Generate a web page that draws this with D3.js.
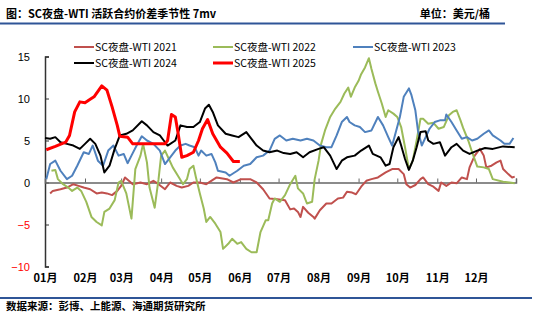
<!DOCTYPE html>
<html><head><meta charset="utf-8">
<script src="https://cdn.jsdelivr.net/npm/d3@7/dist/d3.min.js"></script>
<style>
body{margin:0;background:#fff;}
svg{display:block;font-family:"Noto Sans CJK SC","Liberation Sans",sans-serif;}
</style></head>
<body><svg id="c" width="550" height="323"></svg>
<script>
// ---- data (day of year, value in USD/bbl) ----
const monthLabels = ["01月","02月","03月","04月","05月","06月","07月","08月","09月","10月","11月","12月"];
const monthStarts = [0,31,59,90,120,151,181,212,243,273,304,334,365];
const yTicks = [-10,-5,0,5,10,15];
const seriesNames = ["SC夜盘-WTI 2021","SC夜盘-WTI 2022","SC夜盘-WTI 2023","SC夜盘-WTI 2024","SC夜盘-WTI 2025"];

const days2021 = [4,6,12,17,22,26,30,35,40,44,48,52,56,59,62,65,68,74,79,84,88,93,97,102,106,111,115,120,125,133,141,146,152,159,164,169,174,180,186,190,193,196,198,200,204,208,209,213,218,222,227,231,234,238,241,245,249,253,258,264,269,274,278,280,283,287,291,293,297,301,305,307,311,315,319,323,327,329,333,337,340,342,346,350,353,355,359,362,364];
const vals2021 = [-1.3,-1.0,-0.8,-0.6,-0.2,-0.4,-0.6,-0.8,-1.3,-1.2,-1.3,-1.5,-1.0,-0.4,0.6,0.2,-0.2,0.0,-0.2,0.2,-0.2,-0.8,0.0,-0.4,-0.6,-0.4,0.0,0.0,-0.2,0.6,0.4,0.0,0.4,0.4,0.0,-0.8,-1.9,-2.0,-2.1,-3.2,-3.1,-3.5,-4.1,-2.9,-3.6,-4.1,-4.3,-3.3,-2.5,-2.5,-1.9,-1.8,-1.1,-1.2,-1.4,-0.5,0.2,0.4,0.6,1.2,1.6,1.6,1.0,-0.2,-0.6,-0.3,0.4,0.6,-0.2,-0.5,-1.0,0.0,-0.4,0.0,-0.1,0.6,0.4,1.8,3.2,4.0,3.2,1.8,2.0,2.4,2.6,1.6,1.0,0.6,0.7];

const days2022 = [5,8,10,14,18,21,25,28,32,36,40,44,46,50,54,57,59,63,67,70,74,76,79,81,85,88,90,93,96,99,103,107,110,112,115,117,120,123,125,128,132,136,138,142,145,149,152,156,160,164,167,171,173,176,178,182,186,190,194,196,200,203,207,209,212,214,217,221,225,229,232,235,237,240,243,245,248,251,253,256,258,261,264,266,270,273,276,279,282,285,288,291,293,297,301,305,309,313,316,319,322,324,328,331,335,340,344,347,355,360,364];
const vals2022 = [1.4,1.5,0.4,-0.2,-0.6,-1.0,-0.6,-1.0,-2.3,-4.1,-4.7,-5.1,-3.5,-3.1,-2.1,0.0,0.2,-1.3,-4.3,1.6,3.2,4.6,2.4,-0.6,-3.0,0.4,3.2,3.8,2.8,1.8,0.8,-0.2,0.4,1.6,2.0,0.6,-1.3,-3.1,-4.7,-4.1,-4.9,-5.9,-7.9,-7.3,-6.7,-7.3,-7.1,-7.9,-8.3,-8.3,-5.9,-4.5,-4.5,-2.5,-1.9,-2.3,-1.5,-0.2,0.8,-0.7,-1.3,-2.5,-2.3,0.4,2.6,4.6,6.2,7.8,8.8,9.6,10.6,11.3,10.2,11.3,12.1,12.9,13.7,14.8,13.5,11.8,10.8,9.4,7.8,8.6,8.2,7.8,6.6,4.2,1.6,2.6,5.0,7.6,7.6,7.0,7.1,6.4,6.6,8.0,8.4,8.6,7.4,6.5,5.0,3.6,1.9,1.8,1.6,0.4,0.1,0.0,-0.1];

const days2023 = [1,4,8,12,17,21,25,30,34,37,41,45,49,53,57,61,64,67,71,75,79,84,89,93,97,101,105,109,112,116,119,121,125,129,132,134,140,143,149,154,159,164,169,174,178,182,187,192,198,203,208,213,218,222,226,230,234,236,240,244,248,253,258,262,266,269,271,275,278,282,284,287,289,292,295,298,302,306,310,311,315,319,323,327,331,335,340,344,347,353,356,360,363];
const vals2023 = [0.4,2.2,2.6,1.4,0.4,0.8,2.0,3.6,3.4,4.4,2.6,2.0,3.8,4.4,3.2,3.4,2.3,3.2,4.4,5.5,5.0,4.6,3.8,2.2,3.0,3.8,4.4,4.6,4.4,4.2,3.2,3.8,3.2,3.4,2.4,1.4,1.2,0.8,1.4,2.0,2.2,3.0,3.2,3.8,5.2,5.6,5.0,5.2,5.0,5.2,5.0,4.4,4.2,4.2,5.6,7.2,7.8,7.2,6.8,6.6,6.0,6.2,7.8,6.8,5.4,4.4,5.5,7.8,10.2,11.2,10.4,8.6,6.2,4.4,5.4,6.4,7.2,7.4,7.4,8.1,7.2,6.2,5.2,5.4,5.0,5.2,5.8,6.2,5.6,5.0,4.6,4.6,5.3];

const days2024 = [0,4,8,12,17,22,27,31,35,39,43,46,50,54,58,63,68,75,79,84,89,92,95,101,105,110,115,120,124,127,130,134,140,145,150,156,160,164,169,174,180,185,190,195,200,205,212,216,221,226,230,234,240,245,251,254,260,264,267,270,274,276,279,282,285,288,291,295,297,301,306,310,315,319,324,329,335,341,347,355,364];
const vals2024 = [5.3,5.2,5.4,4.8,4.6,4.4,4.0,4.6,5.2,4.6,3.2,1.2,2.0,4.0,5.6,5.8,6.2,7.3,6.8,6.0,5.6,5.0,4.4,5.0,6.8,6.6,6.6,7.2,8.8,9.25,8.4,6.8,5.8,5.6,5.4,6.0,5.2,4.4,3.8,3.6,3.8,3.5,3.4,3.6,3.0,3.6,4.0,4.2,3.2,1.6,2.6,3.0,3.2,3.8,4.4,3.4,3.0,2.0,2.2,4.2,5.4,4.4,2.8,1.5,2.6,4.2,6.0,6.1,5.0,4.6,4.8,3.2,4.2,4.6,3.8,3.4,3.8,4.1,4.0,4.3,4.2];

const days2025 = [1,8,16,19,23,27,31,35,38,44,48,52,56,58,64,68,81,93,95,98,101,103,106,110,115,119,122,126,130,136,141,146,151];
const vals2025 = [3.9,4.3,4.8,5.6,8.4,9.6,9.5,9.9,10.2,11.5,11.0,9.0,6.8,5.5,5.4,4.6,4.6,4.6,5.0,8.1,7.8,6.0,3.0,3.2,3.6,5.0,6.4,7.5,5.8,4.2,3.5,2.5,2.5];

const seriesColors = ["#C0504D","#9BBB59","#4F81BD","#000000","#FF0000"];
const seriesWidths = [2,2,2,2,3];

const allDays = [days2021,days2022,days2023,days2024,days2025];
const allVals = [vals2021,vals2022,vals2023,vals2024,vals2025];

// ---- drawing ----
const svg = d3.select("#c");
const x = d3.scaleLinear().domain([0,365]).range([45,516]);
const y = d3.scaleLinear().domain([-10,15]).range([266.5,56.5]);

// header
svg.append("text").attr("x",6).attr("y",18).attr("font-size",11).attr("font-weight","bold").attr("fill","#000")
  .text("图：SC夜盘-WTI 活跃合约价差季节性 7mv");
svg.append("text").attr("x",490).attr("y",18).attr("text-anchor","end").attr("font-size",11).attr("font-weight","bold").attr("fill","#000")
  .text("单位：美元/桶");
svg.append("line").attr("x1",0).attr("x2",505).attr("y1",23.5).attr("y2",23.5).attr("stroke","#2F5597").attr("stroke-width",2);

// footer
svg.append("line").attr("x1",0).attr("x2",532).attr("y1",298).attr("y2",298).attr("stroke","#2F5597").attr("stroke-width",2);
svg.append("text").attr("x",6).attr("y",310).attr("font-size",10.5).attr("font-weight","bold").attr("fill","#000")
  .text("数据来源：彭博、上能源、海通期货研究所");

// y axis
const yAxis = svg.append("g").attr("transform","translate(45,0)")
  .call(d3.axisLeft(y).tickValues(yTicks).tickSize(-4).tickPadding(15).tickFormat(d3.format("d")));
yAxis.select(".domain").attr("stroke","#333").attr("stroke-width",1.5);
yAxis.selectAll(".tick line").attr("stroke","#333");
yAxis.selectAll("text").attr("font-size",11).attr("font-family","'Liberation Sans',Arial,sans-serif")
  .attr("fill", d => d < 0 ? "#FF0000" : "#000");

// x axis (line at zero, ticks upward)
const xAxis = svg.append("g").attr("transform",`translate(0,${y(0)})`)
  .call(d3.axisBottom(x).tickValues(monthStarts).tickSize(-4).tickFormat(""));
xAxis.select(".domain").attr("stroke","#666").attr("stroke-width",1.5);
xAxis.selectAll(".tick line").attr("stroke","#666");

// month labels at bottom
const xLab = svg.append("g").attr("transform","translate(0,274)")
  .call(d3.axisBottom(x).tickValues(monthStarts.slice(0,12)).tickSize(0).tickPadding(0)
    .tickFormat((d,i)=>monthLabels[i]));
xLab.select(".domain").remove();
xLab.selectAll("text").attr("font-size",11).attr("font-weight","bold").attr("fill","#000")
  .attr("font-family","'Noto Sans CJK SC',sans-serif").attr("dy","0.71em");

// lines
const line = d3.line().x(d=>x(d[0])).y(d=>y(d[1]));
allDays.forEach((ds,i)=>{
  const pts = ds.map((d,j)=>[d, allVals[i][j]]);
  svg.append("path").datum(pts).attr("d",line).attr("fill","none")
    .attr("stroke",seriesColors[i]).attr("stroke-width",seriesWidths[i]).attr("stroke-linejoin","round");
});

// legend
const legPos = [[74,47],[213,47],[353,47],[74,63],[213,63]];
seriesNames.forEach((n,i)=>{
  const g = svg.append("g").attr("transform",`translate(${legPos[i][0]},${legPos[i][1]})`);
  g.append("line").attr("x1",0).attr("x2",20).attr("y1",0).attr("y2",0)
    .attr("stroke",seriesColors[i]).attr("stroke-width",seriesWidths[i]);
  g.append("text").attr("x",21).attr("y",4).attr("font-size",10.5).attr("fill","#000").text(n);
});
</script></body></html>
